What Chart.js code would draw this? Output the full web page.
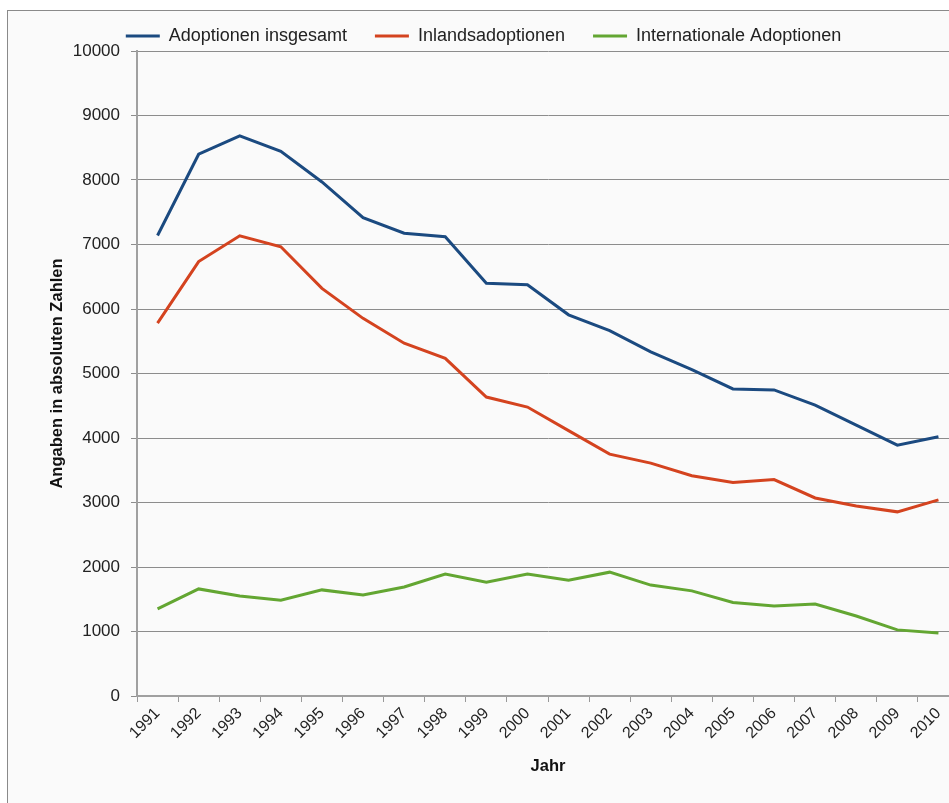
<!DOCTYPE html>
<html lang="de">
<head>
<meta charset="UTF-8">
<title>Adoptionen 1991-2010</title>
<script src="https://cdn.jsdelivr.net/npm/chart.js"></script>
<style>
  body { margin: 0; background: #ffffff; overflow: hidden; }
  #frame {
    position: absolute; left: 7px; top: 10px;
    width: 1000px; height: 900px;
    border: 1px solid #8a8a8a;
    background: #fafafa;
    overflow: hidden;
  }
  #box { position: absolute; left: 0px; top: -12px; width: 951px; height: 781px; }
</style>
</head>
<body>
<div id="frame"><div id="box"><canvas id="chart"></canvas></div></div>
<script>
// values
const years = ['1991','1992','1993','1994','1995','1996','1997','1998','1999','2000',
               '2001','2002','2003','2004','2005','2006','2007','2008','2009','2010'];
const total    = [7140, 8400, 8685, 8445, 7970, 7415, 7175, 7120, 6400, 6375,
                  5910, 5665, 5335, 5060, 4760, 4745, 4510, 4200, 3890, 4020];
const domestic = [5780, 6735, 7135, 6965, 6320, 5855, 5470, 5235, 4635, 4480,
                  4115, 3750, 3610, 3415, 3310, 3355, 3070, 2945, 2855, 3040];
const intl     = [1350, 1660, 1550, 1485, 1645, 1565, 1690, 1890, 1765, 1890,
                  1795, 1920, 1720, 1630, 1450, 1395, 1425, 1240, 1025, 975];
const yTicks = [0, 1000, 2000, 3000, 4000, 5000, 6000, 7000, 8000, 9000, 10000];

const FONT = 'Liberation Sans, Arial, sans-serif';

function series(label, data, color) {
  return {
    label: label,
    data: data,
    borderColor: color,
    backgroundColor: color,
    borderWidth: 3,
    pointRadius: 0,
    pointStyle: 'line',
    tension: 0
  };
}

const ctx = document.getElementById('chart').getContext('2d');
new Chart(ctx, {
  type: 'line',
  data: {
    labels: years,
    datasets: [
      series('Adoptionen insgesamt', total, '#1b4a80'),
      series('Inlandsadoptionen', domestic, '#d4431f'),
      series('Internationale Adoptionen', intl, '#63a632')
    ]
  },
  options: {
    responsive: true,
    maintainAspectRatio: false,
    animation: false,
    layout: { padding: 0 },
    plugins: {
      tooltip: { enabled: false },
      legend: {
        display: true,
        position: 'top',
        maxHeight: 52,
        labels: {
          usePointStyle: true,
          pointStyleWidth: 34,
          padding: 28,
          color: '#222',
          font: { family: FONT, size: 18 }
        }
      }
    },
    scales: {
      x: {
        offset: true,
        grid: {
          offset: true,
          drawOnChartArea: false,
          tickLength: 6,
          color: '#999'
        },
        border: { color: '#a0a0a0', width: 2 },
        ticks: {
          minRotation: 45,
          maxRotation: 45,
          padding: 2,
          color: '#222',
          font: { family: FONT, size: 16 }
        },
        title: {
          display: true,
          text: 'Jahr',
          color: '#111',
          padding: { top: 4, bottom: 4 },
          font: { family: FONT, size: 16.5, weight: 'bold' }
        },
        afterFit: s => { s.height = 84; }
      },
      y: {
        min: 0,
        max: 10000,
        afterBuildTicks: s => { s.ticks = yTicks.map(v => ({ value: v })); },
        grid: {
          color: '#8c8c8c',
          tickLength: 6
        },
        border: { color: '#a0a0a0', width: 2 },
        ticks: {
          padding: 11,
          color: '#222',
          callback: v => String(v),
          font: { family: FONT, size: 17 }
        },
        title: {
          display: true,
          text: 'Angaben in absoluten Zahlen',
          color: '#111',
          padding: { top: 40, bottom: 4 },
          font: { family: FONT, size: 16.5, weight: 'bold' }
        },
        afterFit: s => { s.width = 129; }
      }
    }
  }
});
</script>
</body>
</html>
